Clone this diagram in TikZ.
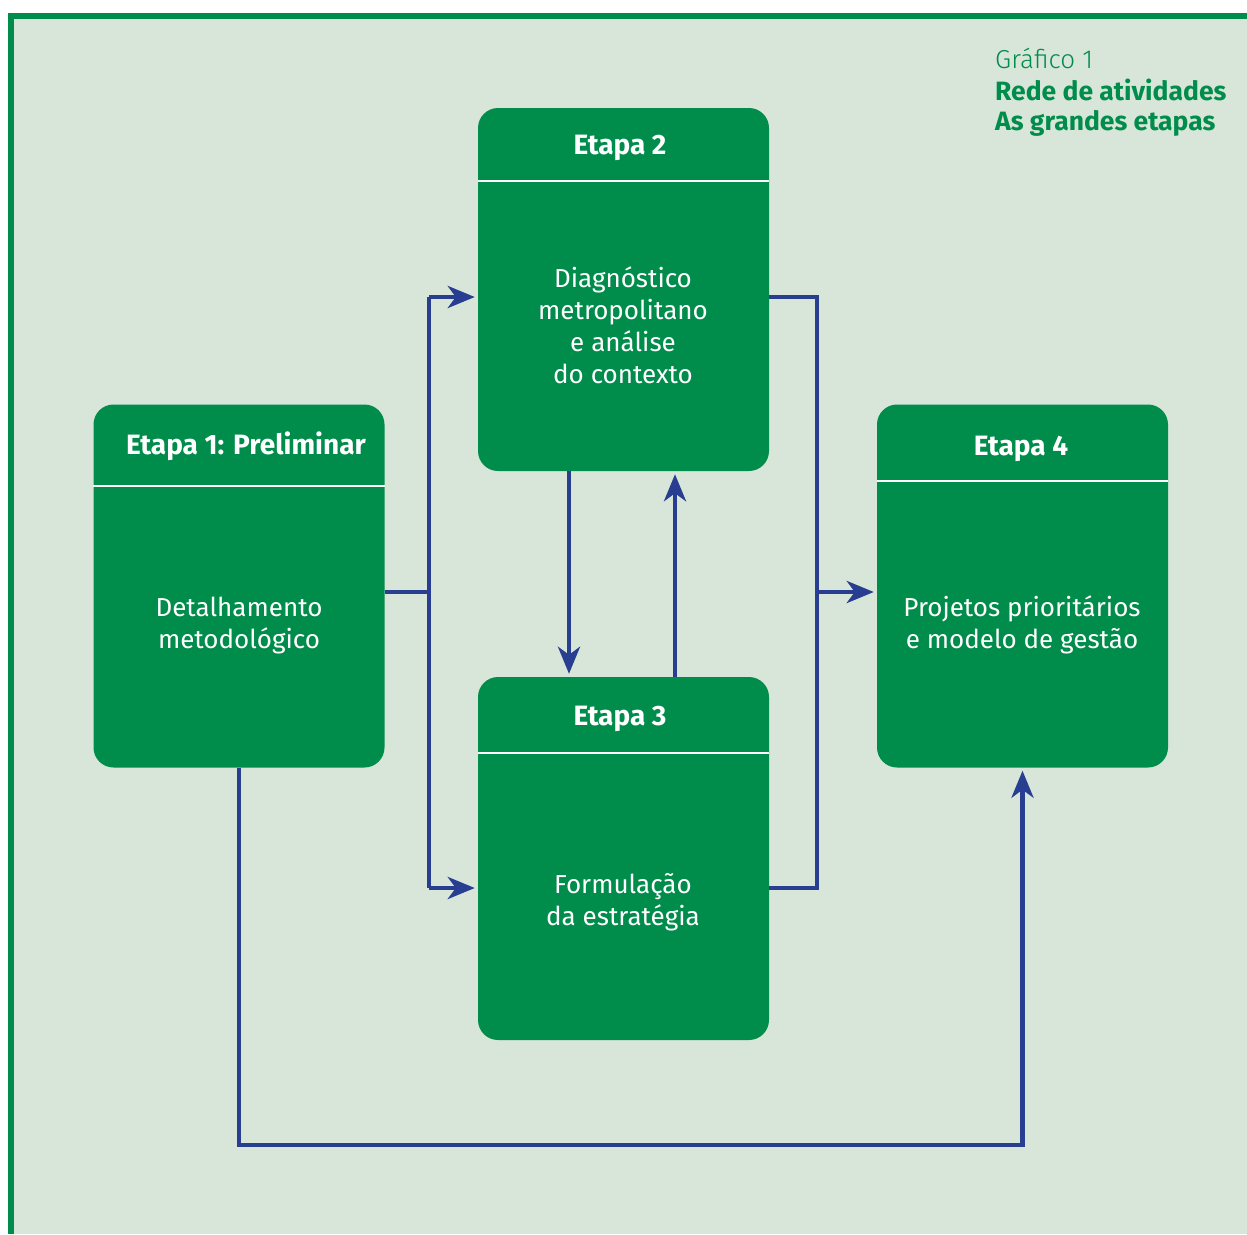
\documentclass[tikz,border=0pt]{standalone}
\usepackage{fontspec}
\setmainfont{Fira Sans}
\newfontfamily\lightfont{Fira Sans Light}
\usetikzlibrary{arrows.meta}
\definecolor{boxgreen}{HTML}{008C4B}
\definecolor{bggreen}{HTML}{D8E6D9}
\definecolor{arrowblue}{HTML}{283E90}
\begin{document}
\begin{tikzpicture}[x=1pt,y=-1pt,
  stagebox/.style={draw=none,fill=boxgreen,rounded corners=20pt,minimum width=291pt,minimum height=363pt,inner sep=0pt},
  headtext/.style={text=white,font=\fontsize{28}{32}\selectfont\bfseries,inner sep=0pt},
  bodytext/.style={text=white,font=\fontsize{26}{32}\selectfont,align=center,inner sep=0pt},
  divider/.style={draw=white,line width=2pt},
  conn/.style={draw=arrowblue,line width=4.5pt,line join=miter},
  arr/.style={conn,-{Stealth[length=27pt,width=22pt,inset=8pt]},shorten >=3pt},
  titletext/.style={text=boxgreen,anchor=west,inner sep=0pt,font=\fontsize{26}{32}\selectfont}
]
\useasboundingbox (0,0) rectangle (1247,1234);
\fill[white] (0,0) rectangle (1247,1234);
\fill[bggreen] (14,19) rectangle (1247,1234);
\fill[boxgreen] (8,13) rectangle (14,1234);
\fill[boxgreen] (8,13) rectangle (1247,19);

% title
\node[titletext,font=\fontsize{26}{32}\selectfont\lightfont] (t1) at (995,58) {Gráfico 1};
\node[titletext,font=\fontsize{26.5}{32}\selectfont\bfseries] (t2) at (995,90) {Rede de atividades};
\node[titletext,font=\fontsize{26.5}{32}\selectfont\bfseries] (t3) at (995,123) {As grandes etapas};

% boxes
\node[stagebox] (e1) at (239,586) {};
\node[stagebox] (e2) at (623.5,289.5) {};
\node[stagebox] (e3) at (623.5,858.5) {};
\node[stagebox] (e4) at (1022.5,586) {};

\draw[divider] (93,486) -- (385,486);
\draw[divider] (478,181) -- (769,181);
\draw[divider] (478,753) -- (769,753);
\draw[divider] (877,481) -- (1168,481);

\node[headtext] (h1) at (246,446) {Etapa 1: Preliminar};
\node[headtext] (h2) at (620,148) {Etapa 2};
\node[headtext] (h3) at (620,719) {Etapa 3};
\node[headtext] (h4) at (1021,449) {Etapa 4};

\node[bodytext] (b1) at (239,626) {Detalhamento\\metodológico};
\node[bodytext] (b2) at (623,325) {Diagnóstico\\metropolitano\\e análise\\do contexto};
\node[bodytext] (b3) at (623,902) {Formulação\\da estratégia};
\node[bodytext] (b4) at (1022,625) {Projetos prioritários\\e modelo de gestão};

% connectors
\coordinate (jL) at (429,592);
\coordinate (jR) at (817,592);
\coordinate (a2) at (429,297);
\coordinate (a3) at (429,888);
\coordinate (r2) at (817,297);
\coordinate (r3) at (817,888);
\coordinate (dx) at (569,0);
\coordinate (ux) at (675,0);
\coordinate (lb) at (0,1145);

\draw[conn] (e1.east |- jL) -- (jL);
\draw[conn] (a2) -- (a3);
\draw[arr] (a2) -- (e2.west |- a2);
\draw[arr] (a3) -- (e3.west |- a3);
\draw[conn] (e2.east |- r2) -- (r2) -- (r3) -- (e3.east |- r3);
\draw[arr] (jR) -- (e4.west |- jR);
\draw[arr] (e2.south -| dx) -- (e3.north -| dx);
\draw[arr] (e3.north -| ux) -- (e2.south -| ux);
\draw[arr] (e1.south) -- (e1.south |- lb) -| (e4.south);
\end{tikzpicture}
\end{document}
